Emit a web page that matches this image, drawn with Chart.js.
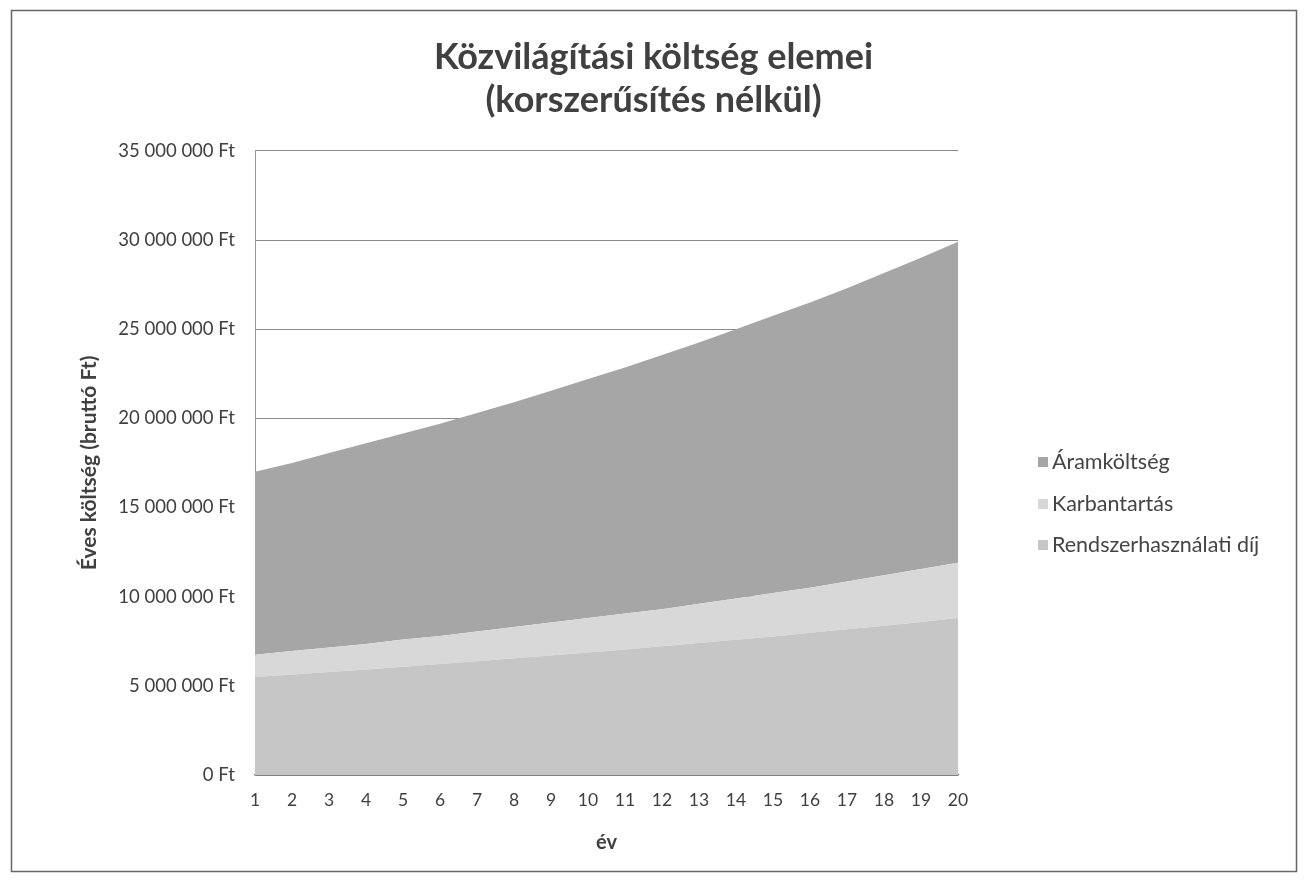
<!DOCTYPE html>
<html>
<head>
<meta charset="utf-8">
<script src="https://cdn.jsdelivr.net/npm/chart.js@4"></script>
<style>
  html, body { margin: 0; padding: 0; background: #fff; }
  #wrap { position: relative; width: 1307px; height: 880px; }
  #legend { position: absolute; left: 1038px; top: 448px; font-family: Lato, sans-serif; font-size: 21.5px; color: #444; }
  #legend div { height: 41.5px; display: flex; align-items: flex-start; white-space: nowrap; }
  #legend span.box { display: inline-block; width: 10px; height: 10px; margin: 9px 4px 0 0; }
</style>
</head>
<body>
<div id="wrap">
  <canvas id="chart" width="1307" height="880"></canvas>
  <div id="legend"></div>
</div>
<script>
// Közvilágítási költség elemei – stacked area, values in Ft
const years = ['1', '2', '3', '4', '5', '6', '7', '8', '9', '10',
               '11', '12', '13', '14', '15', '16', '17', '18', '19', '20'];

// bottom layer
const rendszerhasznalati = [5500000, 5640000, 5780000, 5920000, 6070000, 6220000, 6380000, 6540000, 6700000, 6870000,
                            7040000, 7220000, 7400000, 7580000, 7770000, 7970000, 8170000, 8370000, 8580000, 8800000];
// middle layer
const karbantartas = [1250000, 1310000, 1370000, 1430000, 1530000, 1580000, 1670000, 1760000, 1850000, 1930000,
                      2010000, 2080000, 2200000, 2320000, 2430000, 2530000, 2680000, 2830000, 2970000, 3100000];
// top layer
const aramkoltseg = [10250000, 10550000, 10900000, 11250000, 11550000, 11900000, 12250000, 12600000, 13000000, 13400000,
                     13800000, 14250000, 14650000, 15100000, 15550000, 16000000, 16450000, 16950000, 17450000, 18000000];

const yTicks = [0, 5000000, 10000000, 15000000, 20000000, 25000000, 30000000, 35000000];

const seriesNames = ['Rendszerhasználati díj', 'Karbantartás', 'Áramköltség'];
const seriesColors = ['#c6c6c6', '#d8d8d8', '#a6a6a6'];

const fmtFt = v => String(v).replace(/\B(?=(\d{3})+(?!\d))/g, ' ') + ' Ft';

// outer frame of the chart
const framePlugin = {
    id: 'frame',
    afterDraw(chart) {
        const ctx = chart.ctx;
        ctx.save();
        ctx.strokeStyle = '#666';
        ctx.lineWidth = 1.5;
        ctx.strokeRect(11.5, 10.5, 1285, 861);
        ctx.restore();
    }
};

const series = [rendszerhasznalati, karbantartas, aramkoltseg];

new Chart(document.getElementById('chart'), {
    type: 'line',
    data: {
        labels: years,
        datasets: series.map((data, i) => ({
            label: seriesNames[i],
            data: data,
            backgroundColor: seriesColors[i],
            borderWidth: 0,
            pointRadius: 0,
            tension: 0,
            fill: i === 0 ? 'origin' : '-1'
        }))
    },
    options: {
        responsive: false,
        animation: false,
        layout: { padding: { top: 0, left: 11, right: 11, bottom: 0 } },
        plugins: {
            legend: { display: false },
            tooltip: { enabled: false },
            title: {
                display: true,
                text: ['Közvilágítási költség elemei', '(korszerűsítés nélkül)'],
                color: '#404040',
                font: { family: 'Lato', size: 36, weight: 'bold', lineHeight: 1.22 },
                padding: { top: 35, bottom: 28 }
            }
        },
        scales: {
            x: {
                grid: { display: false, drawTicks: false },
                border: { color: '#7a7a7a', width: 1.5 },
                ticks: { color: '#404040', font: { family: 'Lato', size: 17.5 }, padding: 15, maxRotation: 0, autoSkip: false },
                title: {
                    display: true,
                    text: 'év',
                    color: '#404040',
                    font: { family: 'Lato', size: 20, weight: 'bold' },
                    padding: { top: 0, bottom: 25 }
                },
                afterFit(scale) { scale.height = 105; }
            },
            y: {
                stacked: true,
                min: 0,
                max: 35000000,
                afterBuildTicks(scale) { scale.ticks = yTicks.map(v => ({ value: v })); },
                grid: { color: '#8a8a8a', lineWidth: 1, drawTicks: false },
                border: { color: '#9a9a9a', width: 1 },
                ticks: { color: '#404040', font: { family: 'Lato', size: 18.5 }, padding: 20, callback: v => fmtFt(v) },
                title: {
                    display: true,
                    text: 'Éves költség (bruttó Ft)',
                    color: '#404040',
                    font: { family: 'Lato', size: 21, weight: 'bold' },
                    padding: { top: 66, bottom: 0 }
                },
                afterFit(scale) { scale.width = 244; }
            },
            // empty box on the right that leaves room for the legend
            legendSpace: {
                type: 'linear',
                position: 'right',
                grid: { display: false, drawTicks: false },
                border: { display: false },
                ticks: { display: false },
                afterFit(scale) { scale.width = 338; }
            }
        }
    },
    plugins: [framePlugin]
});

// legend on the right, top series first (as in Excel)
const legend = document.getElementById('legend');
for (let i = seriesNames.length - 1; i >= 0; i--) {
    const row = document.createElement('div');
    row.innerHTML = '<span class="box" style="background:' + seriesColors[i] + '"></span>' + seriesNames[i];
    legend.appendChild(row);
}
</script>
</body>
</html>
